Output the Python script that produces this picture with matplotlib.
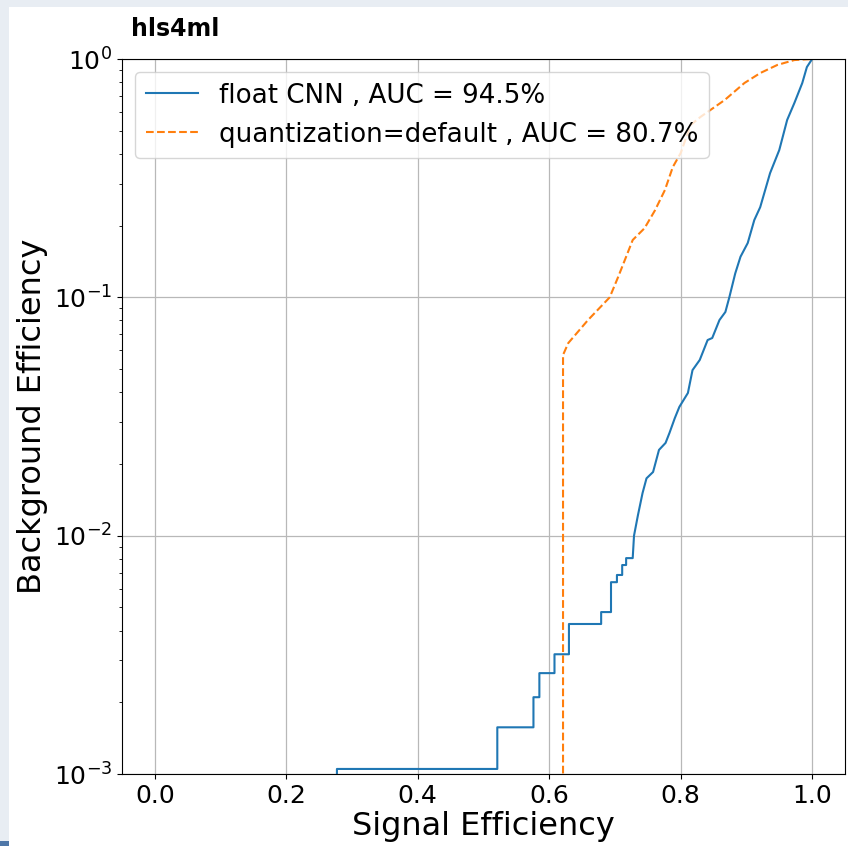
import matplotlib
matplotlib.use("Agg")
import matplotlib.pyplot as plt
from matplotlib.patches import Rectangle

# Data (signal efficiency = TPR, background efficiency = FPR)
float_tpr = [0.277, 0.277, 0.521, 0.521, 0.576, 0.576, 0.585, 0.585, 0.608, 0.608,
             0.630, 0.630, 0.679, 0.679, 0.694, 0.694, 0.703, 0.703, 0.711, 0.711,
             0.717, 0.717, 0.727, 0.729, 0.735, 0.742, 0.748, 0.758, 0.767, 0.777,
             0.783, 0.791, 0.798, 0.811, 0.818, 0.829, 0.841, 0.848, 0.859, 0.868,
             0.874, 0.883, 0.891, 0.902, 0.912, 0.921, 0.936, 0.950, 0.962, 0.973,
             0.985, 0.992, 1.0]
float_fpr = [5.3e-4, 1.05e-3, 1.05e-3, 1.57e-3, 1.57e-3, 2.10e-3, 2.10e-3, 2.65e-3, 2.65e-3, 3.18e-3,
             3.18e-3, 4.26e-3, 4.26e-3, 4.78e-3, 4.78e-3, 6.38e-3, 6.38e-3, 6.84e-3, 6.84e-3, 7.53e-3,
             7.53e-3, 8.05e-3, 8.05e-3, 0.0100, 0.0122, 0.0151, 0.0174, 0.0185, 0.0229, 0.0245,
             0.0270, 0.0311, 0.0347, 0.0397, 0.0495, 0.0546, 0.0662, 0.0675, 0.0803, 0.0868,
             0.100, 0.126, 0.148, 0.169, 0.211, 0.239, 0.332, 0.415, 0.555, 0.654,
             0.793, 0.925, 1.0]

quant_tpr = [0.621, 0.621, 0.629, 0.659, 0.692, 0.705, 0.717, 0.727, 0.745, 0.761,
             0.776, 0.788, 0.800, 0.815, 0.830, 0.867, 0.897, 0.921, 0.947, 0.973, 1.0]
quant_fpr = [5.3e-4, 0.0573, 0.0643, 0.0803, 0.100, 0.122, 0.148, 0.174, 0.195, 0.232,
             0.282, 0.352, 0.403, 0.528, 0.571, 0.673, 0.793, 0.873, 0.944, 0.990, 1.0]

labels = ["float CNN , AUC = 94.5%", "quantization=default , AUC = 80.7%"]
x_ticks = [0.0, 0.2, 0.4, 0.6, 0.8, 1.0]

W, H = 848, 846
fig = plt.figure(figsize=(W / 100, H / 100), dpi=100, facecolor="#e8edf3")
fig.patches.append(Rectangle((9 / W, 0), 1 - 9 / W, 1 - 7 / H, transform=fig.transFigure,
                             facecolor="white", edgecolor="none", zorder=-10))
fig.patches.append(Rectangle((0, 0), 9 / W, 5 / H, transform=fig.transFigure,
                             facecolor="#4f77a8", edgecolor="none", zorder=-10))

ax = fig.add_axes([122 / W, 1 - 774 / H, (845 - 122) / W, (774 - 59) / H])
ax.set_zorder(5)
ax.plot(float_tpr, float_fpr, color="#1f77b4", lw=1.5, label=labels[0])
ax.plot(quant_tpr, quant_fpr, color="#ff7f0e", lw=1.5, ls="--", label=labels[1])
ax.set_yscale("log")
ax.set_xlim(-0.05, 1.05)
ax.set_ylim(1e-3, 1)
ax.set_xticks(x_ticks)
ax.tick_params(axis="both", which="major", labelsize=18)
ax.grid(True, which="major", color="#b8b8b8", lw=0.9)
ax.set_xlabel("Signal Efficiency", fontsize=23, labelpad=2)
ax.set_ylabel("Background Efficiency", fontsize=23, labelpad=4)
ax.legend(loc="upper left", fontsize=18.8, handlelength=2.0, borderaxespad=0.5)
ax.text(0.012, 1.025, "hls4ml", transform=ax.transAxes, fontsize=17, fontweight="bold",
        ha="left", va="bottom")

fig.savefig("out.png", dpi=100, facecolor=fig.get_facecolor())
